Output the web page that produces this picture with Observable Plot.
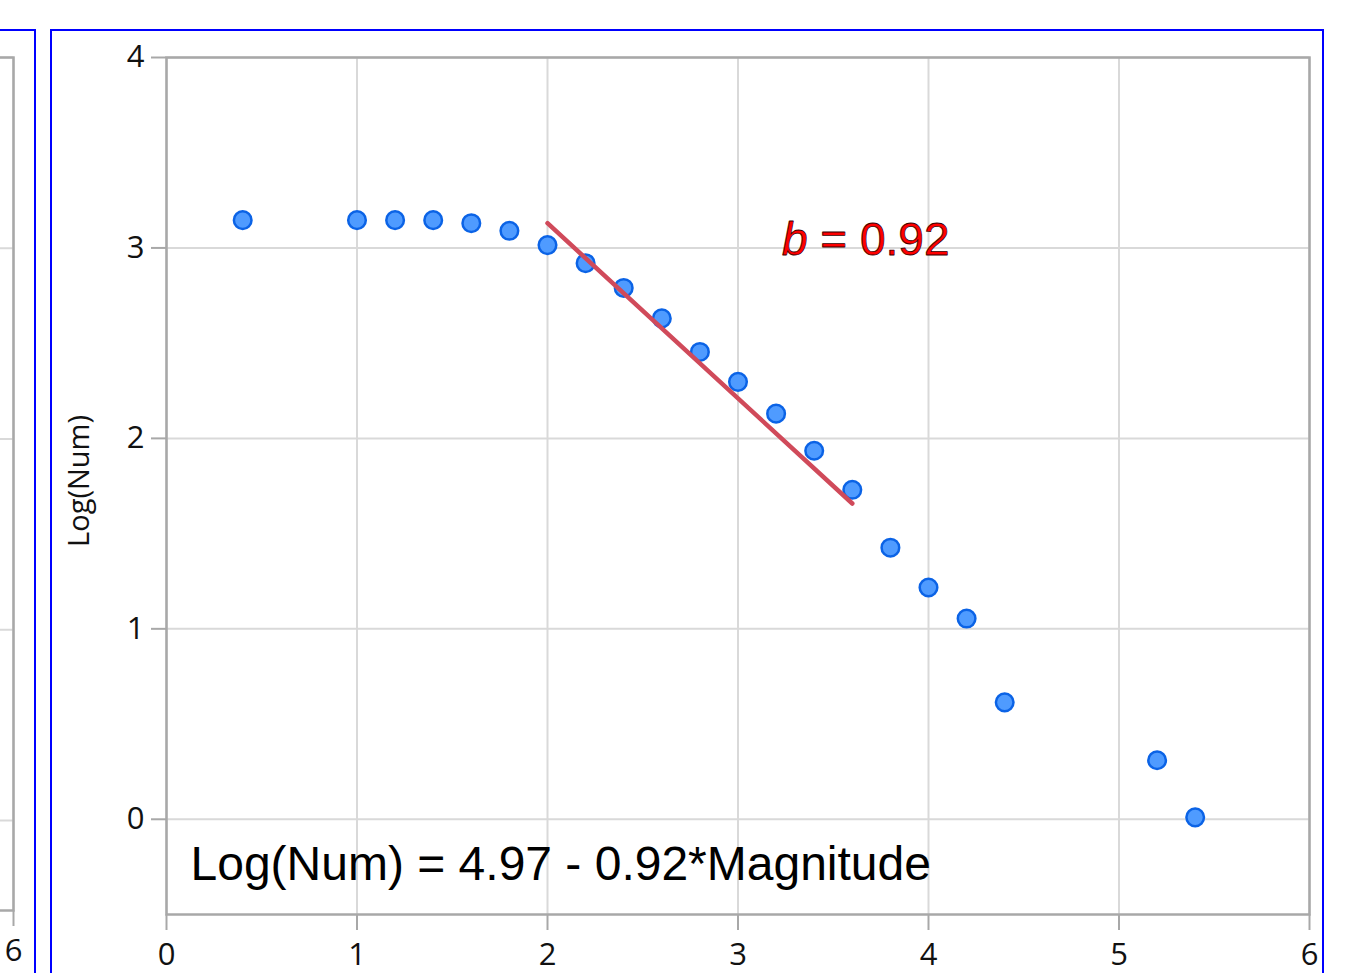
<!DOCTYPE html>
<html>
<head>
<meta charset="utf-8">
<script src="https://cdn.jsdelivr.net/npm/d3@7"></script>
<script src="https://cdn.jsdelivr.net/npm/@observablehq/plot@0.6"></script>
<style>
  html, body { margin: 0; padding: 0; background: #fff; overflow: hidden; }
  #stage { position: relative; width: 1358px; height: 973px; overflow: hidden; background: #fff; }
  #side, #main { position: absolute; top: 0; }
  #side { left: -1138px; }
  #main { left: 0; }
  .panel { position: absolute; border: 2.5px solid #0000ff; box-sizing: border-box; pointer-events: none; }
</style>
</head>
<body>
<div id="stage">
  <div id="side"></div>
  <div id="main"></div>
  <div class="panel" style="left:-100px; top:29px; width:136px; height:1000px;"></div>
  <div class="panel" style="left:50px; top:29px; width:1274px; height:1000px;"></div>
</div>
<script>
// Frequency–magnitude data: magnitude bins and log10 of cumulative counts
const magnitude = [0.4, 1.0, 1.2, 1.4, 1.6, 1.8, 2.0, 2.2, 2.4, 2.6, 2.8, 3.0, 3.2, 3.4, 3.6, 3.8, 4.0, 4.2, 4.4, 5.2, 5.4];
const logNum    = [3.146, 3.146, 3.146, 3.146, 3.13, 3.09, 3.015, 2.92, 2.79, 2.63, 2.454, 2.297, 2.13, 1.935, 1.73, 1.426, 1.217, 1.054, 0.614, 0.31, 0.01];

// Fitted Gutenberg–Richter line over the linear part of the curve
const fitIntercept = 4.97;
const fitSlope = 0.92;
const fitRange = [2.0, 3.6];

// Axis ticks
const xTicks = [0, 1, 2, 3, 4, 5, 6];
const yTicks = [0, 1, 2, 3, 4];
const sideXTicks = [6];

// Texts
const yLabel = "Log(Num)";
const slopeLabel = {x: 3.365, y: 2.965, symbol: "b", value: " = 0.92"};
const equationLabel = {x: 0.126, y: -0.317, text: "Log(Num) = 4.97 - 0.92*Magnitude"};

const points = magnitude.map((m, i) => ({m, v: logNum[i]}));
const fitLine = fitRange.map(m => ({m, v: fitIntercept - fitSlope * m}));

const tickFont = "'Open Sans', sans-serif";
const annFont = "'Liberation Sans', Arial, sans-serif";
const gridColor = "#d9d9d9";
const axisColor = "#a8a8a8";
const fmt = d3.format("d");

function frameMarks(ticks) {
  return [
    Plot.gridX(xTicks, {stroke: gridColor, strokeOpacity: 1, strokeWidth: 2}),
    Plot.gridY(yTicks, {stroke: gridColor, strokeOpacity: 1, strokeWidth: 2}),
    Plot.frame({stroke: axisColor, strokeWidth: 2.5}),
    Plot.axisX(ticks, {tickSize: 16, tickPadding: 12, tickFormat: fmt, stroke: axisColor, strokeWidth: 2,
      fill: "#111", fontSize: 31, label: null})
  ];
}

const common = {
  height: 973,
  marginTop: 57,
  marginLeft: 166,
  marginRight: 49,
  x: {domain: [0, 6]},
  style: {background: "transparent", overflow: "visible", maxWidth: "none", fontFamily: tickFont}
};

// Neighbouring panel; only its right edge falls inside the page
const side = Plot.plot({
  ...common,
  width: 1200,
  marginBottom: 63,
  y: {domain: [-0.472, 4], axis: null},
  marks: frameMarks(sideXTicks)
});
document.getElementById("side").appendChild(side);

// Main panel
const main = Plot.plot({
  ...common,
  width: 1358,
  marginBottom: 59,
  y: {domain: [-0.5, 4]},
  marks: [
    ...frameMarks(xTicks),
    Plot.axisY(yTicks, {tickSize: 15, tickPadding: 7, tickFormat: fmt, stroke: axisColor, strokeWidth: 2,
      fill: "#111", fontSize: 31, label: null}),
    Plot.text([yLabel], {frameAnchor: "left", text: d => d, rotate: -90, textAnchor: "middle", dx: -87, dy: -5,
      fontSize: 29, fontFamily: tickFont, fill: "#111"}),
    Plot.dot(points, {x: "m", y: "v", r: 8.8, fill: "#4f9bff", stroke: "#0b63e6", strokeWidth: 2.5}),
    Plot.line(fitLine, {x: "m", y: "v", stroke: "#d04a5a", strokeWidth: 4.5}),
    Plot.text([slopeLabel], {x: "x", y: "y", text: "symbol", textAnchor: "end", lineAnchor: "bottom",
      fontSize: 46, fontStyle: "italic", fontFamily: annFont, fill: "#ff0000", stroke: "#3a0000", strokeWidth: 0.8, paintOrder: "fill"}),
    Plot.text([slopeLabel], {x: "x", y: "y", text: "value", textAnchor: "start", lineAnchor: "bottom",
      fontSize: 46, fontFamily: annFont, fill: "#ff0000", stroke: "#3a0000", strokeWidth: 0.8, paintOrder: "fill"}),
    Plot.text([equationLabel], {x: "x", y: "y", text: "text", textAnchor: "start", lineAnchor: "bottom",
      fontSize: 48, fontFamily: annFont, fill: "#000"})
  ]
});
document.getElementById("main").appendChild(main);
</script>
</body>
</html>
